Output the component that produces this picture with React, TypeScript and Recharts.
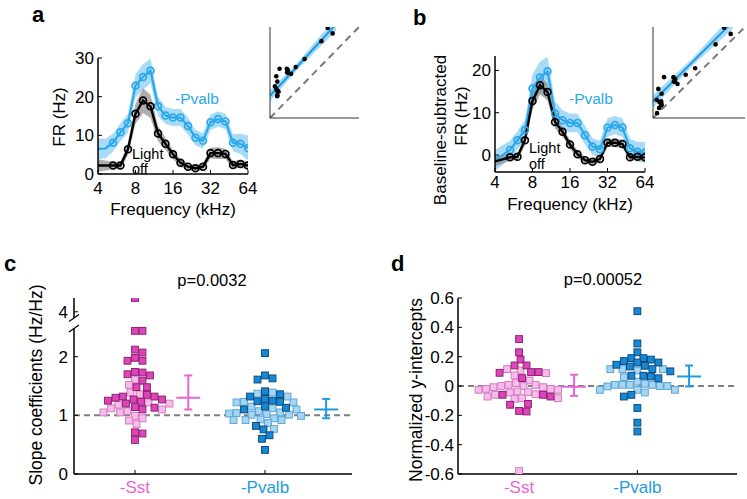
import React from "react";
import {
  ComposedChart,
  Line,
  Area,
  Scatter,
  XAxis,
  YAxis,
  ReferenceLine,
  ErrorBar,
} from "recharts";

const FONT = '"Liberation Sans", Arial, Helvetica, sans-serif';

// ---------- panel a / b: tuning curves ----------
const freqs = [
  4, 4.59, 5.28, 6.06, 6.96, 8, 9.19, 10.56, 12.13, 13.93, 16, 18.38, 21.11,
  24.25, 27.86, 32, 36.76, 42.22, 48.5, 55.72, 64,
];
const kHzTicks = [4, 8, 16, 32, 64];

const frOff = [2.2, 2.2, 2.2, 2.2, 6.4, 15.6, 19.0, 17.5, 10.5, 7.8, 5.1, 2.9, 1.9, 1.5, 1.9, 5.4, 5.4, 5.2, 2.3, 2.6, 2.2];
const frOffSem = [1.6, 1.3, 1.0, 1.0, 1.5, 2.6, 3.2, 3.0, 2.0, 1.5, 1.2, 1.0, 0.9, 0.8, 0.8, 1.4, 1.5, 1.3, 1.0, 1.0, 1.1];
const frPvalb = [6.5, 6.6, 8.1, 10.8, 13.1, 22.8, 25.1, 26.7, 17.5, 15.1, 14.6, 14.6, 12.4, 9.4, 8.6, 13.4, 14.2, 13.6, 8.1, 7.8, 6.7];
const frPvalbSem = [2.7, 2.5, 2.3, 2.3, 2.4, 3.0, 3.3, 3.2, 2.5, 2.2, 2.2, 2.2, 2.2, 2.0, 2.0, 2.0, 2.0, 2.0, 2.2, 2.6, 3.2];

const bsOff = [-1.5, -1.0, -0.5, -0.4, 3.5, 12.8, 16.5, 14.9, 7.8, 5.5, 2.5, 0.2, -1.2, -1.6, -0.9, 2.9, 2.9, 2.6, -0.5, -0.4, -0.5];
const bsOffSem = [1.2, 1.0, 0.8, 0.8, 1.2, 2.0, 2.2, 2.0, 1.5, 1.2, 1.0, 0.9, 0.8, 0.8, 0.8, 1.0, 1.0, 1.0, 0.8, 0.8, 0.9];
const bsPvalb = [-1.3, 0.0, 1.2, 3.5, 5.9, 15.7, 18.3, 19.8, 9.8, 8.2, 7.6, 7.6, 4.7, 2.0, 1.4, 6.5, 7.1, 6.5, 1.6, 0.8, 0.6];
const bsPvalbSem = [2.5, 2.3, 2.2, 2.2, 2.4, 3.4, 3.8, 3.4, 3.0, 2.4, 2.2, 2.2, 2.2, 2.0, 2.0, 2.2, 2.2, 2.2, 2.2, 2.3, 2.5];

// inset regression fits
const fitAX = [0, 8, 20];
const fitAY = [6.6, 15.0, 27.8];
const fitALo = [4.9, 14.0, 25.8];
const fitAHi = [8.3, 16.0, 29.8];

const fitBX = [-2.5, 7, 17];
const fitBY = [1.6, 11.2, 21.3];
const fitBLo = [0.0, 10.3, 19.5];
const fitBHi = [3.2, 12.1, 23.1];

// ---------- panel c / d: swarms ----------
const groups = ["-Sst", "-Pvalb"];
const groupColors = ["#e566d2", "#1f9be3"];

const slopeSstDark = [4.235, 2.44, 2.44, 2.12, 2.07, 1.98, 1.93, 1.93, 1.74, 1.73, 1.7, 1.68, 1.59, 1.48, 1.48, 1.35, 1.32, 1.32, 1.3, 1.27, 1.27, 1.25, 1.23, 1.2, 1.14, 1.13, 1.1, 0.71, 0.69, 0.58];
const slopeSstLight = [1.61, 1.52, 1.39, 1.36, 1.22, 1.2, 1.18, 1.12, 1.1, 1.07, 1.05, 1.05, 0.99, 0.95, 0.91, 0.85];
const slopePvDark = [2.06, 1.68, 1.63, 1.61, 1.41, 1.36, 1.32, 1.28, 1.25, 1.24, 1.23, 1.15, 1.13, 1.1, 0.82, 0.76, 0.66, 0.6, 0.41];
const slopePvLight = [1.39, 1.37, 1.32, 1.23, 1.22, 1.22, 1.15, 1.12, 1.1, 1.07, 1.05, 1.04, 1.03, 1.02, 1.01, 1.01, 0.99, 0.95, 0.93, 0.92, 0.92, 0.92, 0.87, 0.77];
const slopeTicks = [0, 1, 2, 4];
const slopeMid = [1.3, 1.1];
const slopeLow = [1.1, 0.95];
const slopeHigh = [1.68, 1.28];

const icptSstDark = [0.32, 0.23, 0.18, 0.14, 0.14, 0.095, 0.095, 0.09, 0.054, -0.06, -0.06, -0.072, -0.122, -0.128, -0.17, -0.174];
const icptSstLight = [0.115, 0.106, 0.088, 0.072, 0.038, 0.02, 0.008, 0.008, 0.0, 0.0, -0.008, -0.008, -0.02, -0.02, -0.026, -0.026, -0.037, -0.042, -0.044, -0.056, -0.06, -0.072, -0.083, -0.083, -0.087, -0.58];
const icptPvDark = [0.51, 0.29, 0.23, 0.19, 0.19, 0.18, 0.17, 0.16, 0.16, 0.145, 0.138, 0.133, 0.115, 0.1, 0.07, 0.07, 0.065, 0.053, -0.06, -0.072, -0.15, -0.25, -0.31];
const icptPvLight = [0.115, 0.115, 0.115, 0.106, 0.06, 0.03, 0.015, 0.008, 0.008, 0.008, 0.008, 0.0, 0.0, -0.003, -0.026, -0.026, -0.026, -0.044];
const icptTicks = [-0.6, -0.4, -0.2, 0, 0.2, 0.4, 0.6];
const icptMid = [-0.005, 0.065];
const icptLow = [-0.067, -0.003];
const icptHigh = [0.077, 0.14];

const palette = [
  { darkFill: "#de45bb", darkStroke: "#8e2173", lightFill: "#f7bdea", lightStroke: "#d47cc2" },
  { darkFill: "#1689d6", darkStroke: "#0b4a7a", lightFill: "#a5d5f2", lightStroke: "#5aa6d6" },
];

// broken y axis for slopes: values above 3 are drawn shifted down
const SHIFT = 1.235;
const slopeDisp = (v: number) => (v > 3 ? v - SHIFT : v);

const tickFont = { fontSize: 17, fill: "#000", fontFamily: FONT };

// ---------------------------------------------------------------
function TuningPanel(p: {
  left: number;
  top: number;
  yDomain: [number, number];
  yTicks: number[];
  black: number[];
  blackSem: number[];
  blue: number[];
  blueSem: number[];
  xTickMargin: number;
}) {
  const W = 150, H = 116, YW = 60, MT = 12, MR = 14, XH = 30;
  const rows = freqs.map((f, i) => ({
    x: f,
    black: p.black[i],
    blue: p.blue[i],
    blackBand: [p.black[i] - p.blackSem[i], p.black[i] + p.blackSem[i]],
    blueBand: [p.blue[i] - p.blueSem[i], p.blue[i] + p.blueSem[i]],
  }));
  const dot = (color: string) => (props: any) => {
    const { cx, cy, index } = props;
    if (index < 2 || cx == null) return <g key={`d${color}${index}`} />;
    return (
      <circle key={`d${color}${index}`} cx={cx} cy={cy} r={3.4} fill="none" stroke={color} strokeWidth={1.7} />
    );
  };
  return (
    <div style={{ position: "absolute", left: p.left - YW, top: p.top - MT }}>
      <ComposedChart width={YW + W + MR} height={MT + H + XH} data={rows} margin={{ top: MT, right: MR, bottom: 0, left: 0 }}>
        <XAxis
          dataKey="x"
          type="number"
          scale="log"
          domain={[4, 64]}
          ticks={kHzTicks}
          interval={0}
          height={XH}
          tickSize={-4}
          tickMargin={p.xTickMargin}
          axisLine={{ stroke: "#000", strokeWidth: 1.5 }}
          tickLine={{ stroke: "#000" }}
          tick={tickFont}
          allowDataOverflow
        />
        <YAxis
          type="number"
          domain={p.yDomain}
          ticks={p.yTicks}
          interval={0}
          width={YW}
          tickSize={-4}
          tickMargin={8}
          axisLine={{ stroke: "#000", strokeWidth: 1.5 }}
          tickLine={{ stroke: "#000" }}
          tick={tickFont}
          allowDataOverflow
        />
        <Area type="linear" dataKey="blueBand" stroke="none" fill="#a9dbf7" fillOpacity={1} isAnimationActive={false} />
        <Area type="linear" dataKey="blackBand" stroke="none" fill="#8c8c8c" fillOpacity={0.7} isAnimationActive={false} />
        <Line type="linear" dataKey="blue" stroke="#2aa8ec" strokeWidth={2.2} dot={dot("#2aa8ec")} activeDot={false} isAnimationActive={false} />
        <Line type="linear" dataKey="black" stroke="#000" strokeWidth={2.4} dot={dot("#000")} activeDot={false} isAnimationActive={false} />
      </ComposedChart>
    </div>
  );
}

function InsetPanel(p: {
  left: number;
  top: number;
  w: number;
  h: number;
  domain: [number, number];
  xTicks: number[];
  yTicks: number[];
  xs: number[];
  ys: number[];
  fitX: number[];
  fitY: number[];
  fitLo: number[];
  fitHi: number[];
}) {
  const YW = 4, MT = 3, MR = 1, XH = 4;
  const pts = p.xs.map((x, i) => ({ x, y: p.ys[i] }));
  const fit = p.fitX.map((x, i) => ({ x, fy: p.fitY[i], band: [p.fitLo[i], p.fitHi[i]] }));
  const ax = { stroke: "#333", strokeWidth: 1 };
  return (
    <div style={{ position: "absolute", left: p.left - YW, top: p.top - MT }}>
      <ComposedChart width={YW + p.w + MR} height={MT + p.h + XH} data={fit} margin={{ top: MT, right: MR, bottom: 0, left: 0 }}>
        <XAxis dataKey="x" type="number" domain={p.domain} ticks={p.xTicks} interval={0} height={XH} tickSize={-3} tick={false} axisLine={ax} tickLine={ax} allowDataOverflow />
        <YAxis dataKey="y" type="number" domain={p.domain} ticks={p.yTicks} interval={0} width={YW} tickSize={-3} tick={false} axisLine={ax} tickLine={ax} allowDataOverflow />
        <ReferenceLine
          segment={[{ x: p.domain[0], y: p.domain[0] }, { x: p.domain[1], y: p.domain[1] }]}
          stroke="#7a7a7a"
          strokeWidth={2}
          strokeDasharray="7 5"
        />
        <Area type="linear" dataKey="band" stroke="none" fill="#9fd6f5" fillOpacity={0.9} isAnimationActive={false} />
        <Line type="linear" dataKey="fy" stroke="#1b9be6" strokeWidth={2} dot={false} activeDot={false} isAnimationActive={false} />
        <Scatter data={pts} dataKey="y" fill="#000" isAnimationActive={false} shape={(s: any) => <circle cx={s.cx} cy={s.cy} r={2.3} fill="#000" />} />
      </ComposedChart>
    </div>
  );
}

type SwarmPt = { x: number; y: number };

// simple beeswarm: each value keeps its y, x offset is the nearest free slot
function swarm(dark: number[], light: number[], center: number, pxX: number, pxY: number, toDisp: (v: number) => number) {
  const all = [
    ...dark.map((v) => ({ v, dark: true })),
    ...light.map((v) => ({ v, dark: false })),
  ].sort((a, b) => b.v - a.v);
  const gap = 7.4, step = 1.5;
  const placed: { px: number; py: number }[] = [];
  const outDark: SwarmPt[] = [];
  const outLight: SwarmPt[] = [];
  all.forEach((pt) => {
    const py = toDisp(pt.v) * pxY;
    let off = 0;
    for (let k = 0; k < 200; k++) {
      const cand = (k % 2 === 1 ? 1 : -1) * Math.ceil(k / 2) * step;
      const hit = placed.some((q) => {
        const ddx = q.px - cand, ddy = q.py - py;
        return ddx * ddx + ddy * ddy < gap * gap;
      });
      if (!hit) {
        off = cand;
        break;
      }
    }
    placed.push({ px: off, py });
    const out = { x: center + off / pxX, y: toDisp(pt.v) };
    (pt.dark ? outDark : outLight).push(out);
  });
  return { dark: outDark, light: outLight };
}

const square = (fill: string, stroke: string) => (s: any) => (
  <rect x={s.cx - 3.4} y={s.cy - 3.4} width={6.8} height={6.8} fill={fill} stroke={stroke} strokeWidth={1} />
);

const hbar = (color: string) => (s: any) => (
  <line x1={s.cx - 12} x2={s.cx + 12} y1={s.cy} y2={s.cy} stroke={color} strokeWidth={2} />
);

function CatTick(props: any) {
  const { x, y, payload } = props;
  const i = Math.round(payload.value) - 1;
  return (
    <text x={x} y={y} dy="0.71em" textAnchor="middle" fontSize={17} fontFamily={FONT} fill={groupColors[i]}>
      {groups[i]}
    </text>
  );
}

function SwarmPanel(p: {
  left: number;
  top: number;
  w: number;
  xDomain: [number, number];
  yDomain: [number, number];
  yTicks: number[];
  fmt: (v: number) => string;
  toDisp: (v: number) => number;
  sets: [number[], number[]][];
  mid: number[];
  low: number[];
  high: number[];
  errX: number[];
  refY: number;
  yTickMargin: number;
  broken?: { lowTop: number; highBottom: number };
}) {
  const H = 176, YW = 60, MT = 10, MR = 8, XH = 25;
  const pxX = p.w / (p.xDomain[1] - p.xDomain[0]);
  const pxY = H / (p.yDomain[1] - p.yDomain[0]);
  const swarms = p.sets.map(([d, l], g) => swarm(d, l, g + 1, pxX, pxY, p.toDisp));
  const xa = p.xDomain[0];
  const dx = 5 / pxX, dy = 3.5 / pxY;
  return (
    <div style={{ position: "absolute", left: p.left - YW, top: p.top - MT }}>
      <ComposedChart width={YW + p.w + MR} height={MT + H + XH} margin={{ top: MT, right: MR, bottom: 0, left: 0 }}>
        <XAxis
          dataKey="x"
          type="number"
          domain={p.xDomain}
          ticks={[1, 2]}
          interval={0}
          height={XH}
          tickSize={-4}
          tickMargin={11}
          axisLine={{ stroke: "#000", strokeWidth: 1.5 }}
          tickLine={{ stroke: "#000" }}
          tick={<CatTick />}
          allowDataOverflow
        />
        <YAxis
          dataKey="y"
          type="number"
          domain={p.yDomain}
          ticks={p.yTicks.map(p.toDisp)}
          tickFormatter={p.fmt}
          interval={0}
          width={YW}
          tickSize={-4}
          tickMargin={p.yTickMargin}
          axisLine={p.broken ? false : { stroke: "#000", strokeWidth: 1.5 }}
          tickLine={{ stroke: "#000" }}
          tick={tickFont}
          allowDataOverflow
        />
        {p.broken && (
          <ReferenceLine segment={[{ x: xa, y: p.yDomain[0] }, { x: xa, y: p.broken.lowTop }]} stroke="#000" strokeWidth={1.5} ifOverflow="visible" />
        )}
        {p.broken && (
          <ReferenceLine segment={[{ x: xa, y: p.broken.highBottom }, { x: xa, y: p.yDomain[1] }]} stroke="#000" strokeWidth={1.5} ifOverflow="visible" />
        )}
        {p.broken && (
          <ReferenceLine segment={[{ x: xa - dx, y: p.broken.lowTop - dy }, { x: xa + dx, y: p.broken.lowTop + dy }]} stroke="#000" strokeWidth={1.3} ifOverflow="visible" />
        )}
        {p.broken && (
          <ReferenceLine segment={[{ x: xa - dx, y: p.broken.highBottom - dy }, { x: xa + dx, y: p.broken.highBottom + dy }]} stroke="#000" strokeWidth={1.3} ifOverflow="visible" />
        )}
        <ReferenceLine y={p.refY} stroke="#7f7f7f" strokeWidth={2} strokeDasharray="6 4" />
        {swarms.map((s, g) => (
          <Scatter key={`l${g}`} data={s.light} dataKey="y" isAnimationActive={false} shape={square(palette[g].lightFill, palette[g].lightStroke)} />
        ))}
        {swarms.map((s, g) => (
          <Scatter key={`d${g}`} data={s.dark} dataKey="y" isAnimationActive={false} shape={square(palette[g].darkFill, palette[g].darkStroke)} />
        ))}
        {p.mid.map((m, g) => (
          <Scatter
            key={`e${g}`}
            data={[{ x: p.errX[g], y: m, e: [m - p.low[g], p.high[g] - m] }]}
            dataKey="y"
            isAnimationActive={false}
            shape={hbar(groupColors[g])}
          >
            <ErrorBar dataKey="e" direction="y" width={4} stroke={groupColors[g]} strokeWidth={2} />
          </Scatter>
        ))}
      </ComposedChart>
    </div>
  );
}

export default function App() {
  const t = { fontFamily: FONT, fill: "#000" } as const;
  return (
    <div style={{ position: "absolute", left: 0, top: 0, width: 747, height: 499, background: "#fff" }}>
      <TuningPanel left={98} top={58} yDomain={[0, 30]} yTicks={[0, 10, 20, 30]} black={frOff} blackSem={frOffSem} blue={frPvalb} blueSem={frPvalbSem} xTickMargin={12} />
      <TuningPanel left={495} top={56} yDomain={[-4, 23.4]} yTicks={[0, 10, 20]} black={bsOff} blackSem={bsOffSem} blue={bsPvalb} blueSem={bsPvalbSem} xTickMargin={8} />
      <InsetPanel left={270} top={27} w={89} h={91} domain={[0, 27]} xTicks={[10, 20]} yTicks={[10, 20]} xs={frOff} ys={frPvalb} fitX={fitAX} fitY={fitAY} fitLo={fitALo} fitHi={fitAHi} />
      <InsetPanel left={653} top={27} w={92} h={91} domain={[-2.5, 20]} xTicks={[8, 18]} yTicks={[8, 16]} xs={bsOff} ys={bsPvalb} fitX={fitBX} fitY={fitBY} fitLo={fitBLo} fitHi={fitBHi} />
      <SwarmPanel
        left={74}
        top={298}
        w={278}
        xDomain={[0.531, 2.669]}
        yDomain={[0, 3.0]}
        yTicks={slopeTicks}
        toDisp={slopeDisp}
        fmt={(d) => String(Math.round(d > 2.5 ? d + SHIFT : d))}
        sets={[[slopeSstDark, slopeSstLight], [slopePvDark, slopePvLight]]}
        mid={slopeMid}
        low={slopeLow}
        high={slopeHigh}
        errX={[1.41, 2.47]}
        refY={1}
        yTickMargin={10}
        broken={{ lowTop: 2.48, highBottom: 2.66 }}
      />
      <SwarmPanel
        left={458}
        top={298}
        w={279}
        xDomain={[0.484, 2.842]}
        yDomain={[-0.6, 0.6]}
        yTicks={icptTicks}
        toDisp={(v) => v}
        fmt={(d) => (Math.abs(d) < 1e-9 ? "0" : d.toFixed(1))}
        sets={[[icptSstDark, icptSstLight], [icptPvDark, icptPvLight]]}
        mid={icptMid}
        low={icptLow}
        high={icptHigh}
        errX={[1.465, 2.437]}
        refY={0}
        yTickMargin={8}
      />
      <svg width={747} height={499} style={{ position: "absolute", left: 0, top: 0, pointerEvents: "none" }}>
        <text x={32} y={22} fontSize={22} fontWeight="bold" {...t}>a</text>
        <text x={413} y={25} fontSize={22} fontWeight="bold" {...t}>b</text>
        <text x={4} y={271} fontSize={22} fontWeight="bold" {...t}>c</text>
        <text x={391} y={271} fontSize={22} fontWeight="bold" {...t}>d</text>

        <text x={65} y={117} fontSize={17} textAnchor="middle" transform="rotate(-90 65 117)" {...t}>FR (Hz)</text>
        <text x={173} y={215} fontSize={17} textAnchor="middle" {...t}>Frequency (kHz)</text>
        <text x={175} y={104} fontSize={15.5} fontFamily={FONT} fill="#2aa8ec">-Pvalb</text>
        <text x={132} y={158.5} fontSize={14.5} {...t}>Light</text>
        <text x={132} y={174} fontSize={14.5} {...t}>off</text>

        <text x={446} y={130} fontSize={17} textAnchor="middle" transform="rotate(-90 446 130)" {...t}>Baseline-subtracted</text>
        <text x={467} y={116} fontSize={17} textAnchor="middle" transform="rotate(-90 467 116)" {...t}>FR (Hz)</text>
        <text x={570} y={210} fontSize={17} textAnchor="middle" {...t}>Frequency (kHz)</text>
        <text x={569} y={104} fontSize={15.5} fontFamily={FONT} fill="#2aa8ec">-Pvalb</text>
        <text x={529} y={153} fontSize={14.5} {...t}>Light</text>
        <text x={529} y={168.5} fontSize={14.5} {...t}>off</text>

        <text x={212} y={286} fontSize={16.5} textAnchor="middle" {...t}>p=0.0032</text>
        <text x={603} y={285} fontSize={16.5} textAnchor="middle" {...t}>p=0.00052</text>
        <text x={42} y={385} fontSize={17.5} textAnchor="middle" transform="rotate(-90 42 385)" {...t}>Slope coefficients (Hz/Hz)</text>
        <text x={422} y={390} fontSize={17.5} textAnchor="middle" transform="rotate(-90 422 390)" {...t}>Normalized y-intercepts</text>
      </svg>
    </div>
  );
}
